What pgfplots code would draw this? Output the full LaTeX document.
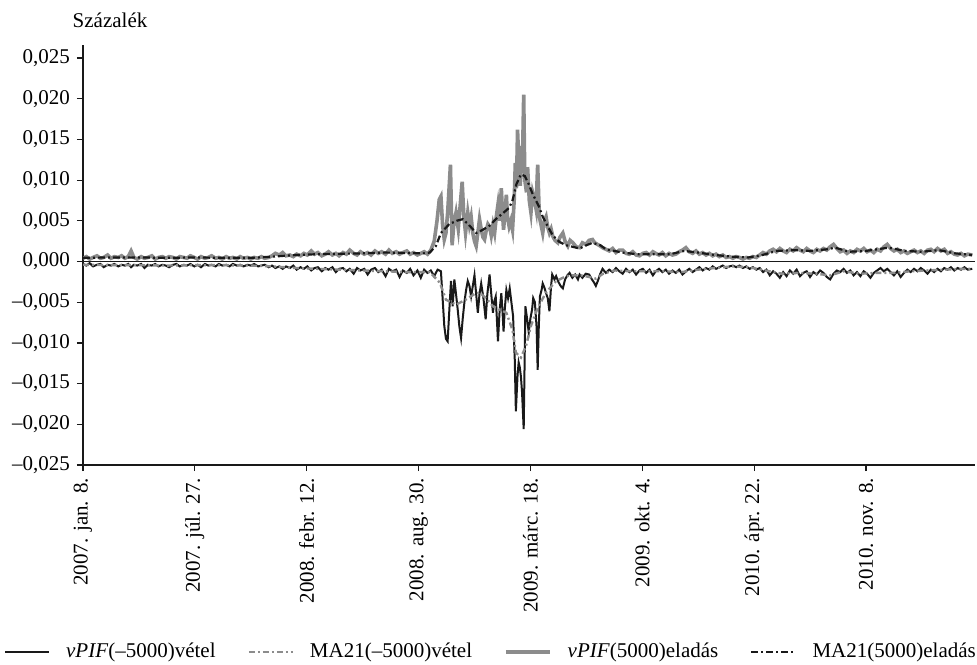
\documentclass[border=0pt]{standalone}
\usepackage{pgfplots}
\usepackage{pgfplotstable}
\pgfplotsset{compat=1.18}
\usepackage{fontspec}
\setmainfont{Liberation Serif}
\definecolor{grayA}{RGB}{140,140,140}
\definecolor{blk}{RGB}{25,25,25}

% values in thousandths (0.001 = 1)
\pgfplotstableread{
x y
0 0.4
6 0.6
12 0.3
18 0.5
25 0.7
31 0.4
37 0.5
44 0.8
50 0.4
56 0.6
63 0.5
69 0.7
75 0.4
81 0.6
86 1.3
91 0.5
97 0.3
104 0.6
110 0.4
116 0.5
123 0.7
129 0.3
135 0.5
142 0.6
148 0.4
154 0.6
161 0.5
167 0.3
173 0.6
180 0.5
186 0.4
192 0.7
199 0.5
205 0.3
211 0.6
218 0.4
224 0.5
230 0.7
237 0.4
243 0.5
249 0.3
256 0.6
262 0.4
268 0.5
275 0.3
281 0.6
287 0.4
294 0.5
300 0.3
306 0.5
313 0.4
319 0.6
325 0.4
332 0.5
338 0.7
344 1.0
351 0.8
357 1.1
363 0.7
370 0.8
376 0.6
382 0.9
389 0.7
395 1.0
401 0.8
408 1.3
414 0.9
420 1.1
427 0.7
433 0.9
439 1.2
446 0.8
452 1.0
458 0.7
465 1.1
471 0.9
477 1.4
484 1.0
490 0.8
496 1.2
503 0.9
509 1.1
515 0.8
522 1.3
528 1.0
534 1.2
541 0.9
547 1.4
553 1.0
560 1.2
566 0.9
572 1.1
579 1.3
585 0.9
591 1.1
598 0.8
604 1.0
610 1.2
616 0.9
622 1.4
628 2.5
633 5.0
637 7.6
640 8.0
643 4.5
646 2.7
649 3.5
652 6.0
655 9.5
657 11.9
660 2.0
663 4.5
667 6.0
671 4.0
674 6.5
678 9.8
681 5.5
684 3.5
688 6.0
691 4.5
694 5.5
697 3.5
700 2.5
703 1.9
706 3.5
709 5.2
712 4.0
715 3.0
718 2.7
721 3.8
724 4.6
727 4.3
730 3.2
733 4.5
736 3.5
739 5.5
742 7.0
745 5.0
748 9.0
750 6.0
752 3.9
755 6.5
757 8.2
759 5.5
762 4.3
765 5.0
768 3.9
771 7.5
773 12.1
775 9.0
777 16.2
780 11.0
782 9.3
784 14.2
786 13.0
788 20.5
790 10.0
793 8.5
795 11.6
798 7.5
801 6.0
804 8.5
807 7.7
810 6.5
813 11.9
816 5.5
819 4.5
822 3.5
825 5.0
828 5.5
831 4.2
834 3.5
837 4.0
840 3.1
844 2.6
849 2.3
853 3.0
858 3.5
862 2.5
867 1.9
871 2.6
876 2.3
882 1.8
888 1.7
893 2.3
899 2.1
905 2.6
911 2.7
915 2.3
920 2.1
925 1.9
929 1.7
935 1.5
941 1.3
947 1.6
953 1.1
959 1.4
965 1.4
971 1.0
977 0.9
983 1.2
989 0.8
995 0.7
1001 1.0
1007 1.1
1013 0.8
1019 1.2
1024 1.0
1030 0.8
1036 1.1
1042 0.7
1048 1.0
1054 0.8
1060 0.9
1066 1.2
1072 1.4
1078 1.7
1084 1.2
1090 1.0
1096 1.3
1102 0.9
1108 1.1
1114 0.8
1120 1.0
1126 0.7
1132 0.9
1138 0.6
1144 0.8
1150 0.5
1156 0.6
1162 0.4
1168 0.6
1174 0.5
1180 0.3
1186 0.5
1192 0.4
1198 0.6
1204 0.5
1210 0.8
1216 1.1
1222 0.9
1228 1.3
1234 1.5
1240 1.2
1246 1.6
1252 1.3
1258 1.1
1264 1.5
1270 1.3
1276 1.7
1282 1.4
1288 1.2
1294 1.6
1300 1.3
1306 1.1
1312 1.5
1318 1.3
1324 1.6
1330 1.4
1336 1.8
1342 2.1
1348 1.6
1354 1.2
1360 1.4
1366 1.0
1372 1.3
1378 1.1
1384 1.5
1390 1.3
1396 1.6
1402 1.2
1408 1.4
1414 1.1
1420 1.5
1426 1.3
1432 1.8
1438 2.1
1444 1.6
1450 1.3
1456 1.5
1462 1.1
1468 1.3
1474 1.0
1480 1.2
1486 1.4
1492 1.1
1498 1.3
1504 1.0
1510 1.4
1516 1.5
1522 1.2
1528 1.6
1534 1.3
1540 1.5
1546 1.0
1552 1.2
1558 0.9
1564 0.8
1570 1.0
1576 0.7
1582 0.9
1590 0.8
}\tblP

\pgfplotstableread{
x y
0 0.45
50 0.5
100 0.5
150 0.45
200 0.5
250 0.45
300 0.45
340 0.6
380 0.8
420 0.9
460 0.95
500 1.0
540 1.1
580 1.05
610 1.0
620 1.1
631 1.9
640 3.5
655 4.6
668 5.0
679 5.2
690 4.5
703 3.5
715 3.9
727 4.4
738 5.2
752 6.0
762 6.6
768 7.5
775 9.5
783 10.7
790 10.5
797 9.5
804 8.3
815 6.8
822 5.5
832 4.2
840 3.2
852 2.4
864 2.0
876 1.8
888 1.6
900 2.0
911 2.3
925 2.0
935 1.5
950 1.3
965 1.1
990 0.9
1020 0.9
1050 0.9
1075 1.3
1100 1.1
1130 0.8
1160 0.6
1190 0.5
1215 0.8
1240 1.3
1270 1.4
1300 1.3
1330 1.5
1345 1.7
1370 1.2
1400 1.3
1440 1.7
1470 1.3
1500 1.2
1530 1.4
1560 1.0
1590 0.8
}\tblM

\pgfplotstableread{
x y
0 -0.3
6 -0.5
12 -0.2
18 -0.6
25 -0.4
31 -0.3
37 -0.7
44 -0.4
50 -0.5
56 -0.3
63 -0.6
69 -0.4
75 -0.5
81 -0.3
86 -0.7
91 -0.4
97 -0.5
104 -0.3
110 -0.8
116 -0.4
123 -0.5
129 -0.3
135 -0.6
142 -0.4
148 -0.5
154 -0.7
161 -0.4
167 -0.3
173 -0.6
180 -0.4
186 -0.5
192 -0.3
199 -0.6
205 -0.4
211 -0.7
218 -0.3
224 -0.5
230 -0.4
237 -0.6
243 -0.3
249 -0.5
256 -0.4
262 -0.6
268 -0.3
275 -0.5
281 -0.4
287 -0.6
294 -0.4
300 -0.5
306 -0.3
313 -0.6
319 -0.5
325 -0.4
332 -0.7
338 -0.5
344 -0.8
351 -0.6
357 -0.9
363 -0.6
370 -0.8
376 -0.5
382 -1.0
389 -0.7
395 -0.9
401 -0.6
408 -1.1
414 -0.8
420 -0.7
427 -1.2
433 -0.8
439 -1.0
446 -0.7
452 -1.3
458 -0.9
465 -0.8
471 -1.2
477 -0.9
484 -1.5
490 -0.8
496 -1.1
503 -0.9
509 -1.6
515 -1.0
522 -0.8
528 -1.3
534 -1.0
541 -1.8
547 -0.9
553 -1.2
560 -1.0
566 -1.9
572 -1.1
579 -1.4
585 -0.9
591 -1.7
598 -1.1
604 -2.0
610 -1.0
616 -1.4
622 -1.1
628 -1.8
634 -1.0
640 -1.2
643 -4.5
646 -7.9
649 -9.5
652 -9.8
655 -6.0
658 -2.4
661 -5.5
664 -2.2
667 -4.0
670 -5.9
673 -8.0
676 -9.4
679 -7.0
682 -5.0
685 -3.5
688 -2.4
691 -3.0
694 -4.3
697 -3.0
700 -1.7
703 -4.0
706 -6.3
709 -4.0
712 -2.7
716 -4.5
720 -7.1
723 -4.0
727 -1.6
730 -4.0
733 -6.3
735 -5.0
738 -4.3
740 -7.0
742 -9.8
745 -6.0
748 -3.9
750 -6.0
752 -8.6
754 -6.0
757 -3.5
760 -4.5
763 -3.3
766 -5.0
769 -6.7
772 -12.0
774 -18.4
777 -14.0
779 -12.4
781 -13.0
783 -14.1
785 -16.0
788 -20.6
791 -5.5
794 -7.0
797 -8.7
800 -7.0
803 -5.9
805 -4.5
808 -5.0
811 -8.0
813 -13.3
815 -8.0
817 -4.3
820 -3.5
822 -2.7
825 -3.2
828 -3.9
831 -4.5
834 -6.1
837 -3.0
839 -1.6
843 -2.2
846 -1.8
850 -2.5
854 -3.0
858 -3.3
862 -2.2
866 -1.7
870 -1.4
875 -2.0
880 -1.6
885 -2.2
888 -1.6
893 -2.0
899 -1.5
905 -1.6
910 -2.2
914 -2.6
917 -3.0
921 -2.3
925 -1.5
929 -0.9
935 -1.4
941 -1.0
947 -1.3
953 -0.8
959 -1.2
965 -1.5
971 -0.9
977 -1.3
983 -1.0
989 -1.6
995 -1.1
1001 -0.9
1007 -1.4
1013 -1.0
1019 -1.7
1024 -1.2
1030 -0.9
1036 -1.3
1042 -1.0
1048 -1.5
1054 -1.1
1060 -1.4
1066 -1.0
1072 -1.6
1078 -1.2
1084 -0.9
1090 -1.3
1096 -1.0
1102 -0.7
1108 -1.1
1114 -0.8
1120 -1.0
1126 -0.6
1132 -0.9
1138 -0.7
1144 -0.5
1150 -0.8
1156 -0.6
1162 -0.5
1168 -0.7
1174 -0.5
1180 -0.8
1186 -0.6
1192 -0.9
1198 -0.7
1204 -1.0
1210 -0.8
1216 -1.3
1222 -1.0
1228 -1.7
1234 -1.2
1240 -1.5
1246 -2.0
1252 -1.3
1258 -1.8
1264 -1.1
1270 -1.5
1276 -1.0
1282 -1.8
1288 -1.4
1294 -1.2
1300 -1.9
1306 -1.3
1312 -1.6
1318 -1.1
1324 -1.4
1330 -1.9
1336 -2.2
1342 -1.5
1348 -1.1
1354 -1.3
1360 -0.9
1366 -1.4
1372 -1.1
1378 -1.7
1384 -1.3
1390 -1.8
1396 -1.2
1402 -1.5
1408 -2.0
1414 -1.4
1420 -1.1
1426 -0.8
1432 -1.2
1438 -0.9
1444 -1.3
1450 -1.7
1456 -1.2
1462 -1.9
1468 -1.4
1474 -1.0
1480 -1.3
1486 -0.9
1492 -1.2
1498 -0.8
1504 -1.1
1510 -1.5
1516 -1.0
1522 -1.3
1528 -0.9
1534 -1.2
1540 -0.8
1546 -1.0
1552 -0.7
1558 -1.1
1564 -0.8
1570 -1.0
1576 -0.7
1582 -1.0
1590 -0.9
}\tblN

\pgfplotstableread{
x y
0 -0.4
50 -0.45
100 -0.45
150 -0.5
200 -0.45
250 -0.45
300 -0.5
340 -0.6
380 -0.8
420 -0.9
460 -1.0
500 -1.1
540 -1.2
580 -1.3
620 -1.3
638 -2.6
649 -4.7
667 -5.3
684 -4.7
700 -4.0
709 -3.8
722 -4.6
733 -5.5
745 -5.9
757 -6.3
768 -8.4
774 -11.2
783 -11.8
792 -10.4
801 -7.9
813 -5.7
828 -3.8
846 -2.4
858 -2.0
870 -1.7
890 -1.7
905 -1.9
917 -2.1
930 -1.5
950 -1.1
980 -1.2
1010 -1.2
1040 -1.2
1070 -1.3
1100 -1.0
1130 -0.8
1160 -0.6
1190 -0.7
1220 -1.1
1250 -1.5
1280 -1.4
1310 -1.5
1336 -1.7
1360 -1.2
1390 -1.5
1420 -1.4
1450 -1.4
1480 -1.2
1510 -1.1
1540 -1.0
1570 -0.9
1590 -0.9
}\tblMN

\begin{document}
\begin{tikzpicture}
\path[use as bounding box] (-41.5pt,-99.5pt) rectangle (447pt,232.5pt);
\begin{axis}[
  at={(0,0)}, anchor=south west,
  scale only axis, width=446pt, height=210pt,
  xmin=0, xmax=1595, ymin=-25, ymax=26.6,
  axis x line=bottom, axis y line=left,
  axis line style={-, blk, line width=0.6pt},
  xtick={0,200,400,600,800,1000,1200,1400},
  xticklabels={{2007. jan. 8.},{2007. júl. 27.},{2008. febr. 12.},{2008. aug. 30.},{2009. márc. 18.},{2009. okt. 4.},{2010. ápr. 22.},{2010. nov. 8.}},
  x tick label style={rotate=90, anchor=east},
  ytick={-25,-20,-15,-10,-5,0,5,10,15,20,25},
  yticklabels={{\textendash0,025},{\textendash0,020},{\textendash0,015},{\textendash0,010},{\textendash0,005},{0,000},{0,005},{0,010},{0,015},{0,020},{0,025}},
  tick align=outside, major tick length=3pt,
  tick style={blk, line width=0.6pt},
  font=\fontsize{10.5}{12}\selectfont,
  ticklabel style={font=\fontsize{10.5}{12}\selectfont},
  legend columns=4,
  legend style={at={(0.4585,-0.445)}, anchor=center, draw=none, fill=none,
    inner sep=0pt, font=\fontsize{10.5}{12}\selectfont,
    /tikz/every odd column/.append style={column sep=6pt},
    /tikz/every even column/.append style={column sep=14pt}},
  legend image code/.code={\draw[#1] (0pt,0pt) -- (22pt,0pt);},
]
\addplot[forget plot, blk, line width=0.6pt] coordinates {(0,0) (1595,0)};
\addplot[blk, line width=1pt] table {\tblN};
\addlegendentry{\textit{vPIF}(\textendash5000)vétel}
\addplot[grayA, line width=1.2pt, dash pattern=on 3pt off 1.5pt on 1pt off 1.5pt] table {\tblMN};
\addlegendentry{MA21(\textendash5000)vétel}
\addplot[grayA, line width=1.8pt] table {\tblP};
\addlegendentry{\textit{vPIF}(5000)eladás}
\addplot[blk, line width=1.1pt, dash pattern=on 3.5pt off 1.5pt on 1pt off 1.5pt] table {\tblM};
\addlegendentry{MA21(5000)eladás}
\end{axis}
\node[anchor=base, font=\fontsize{10.5}{12}\selectfont] at (13.5pt,218.5pt) {Százalék};
\end{tikzpicture}
\end{document}
